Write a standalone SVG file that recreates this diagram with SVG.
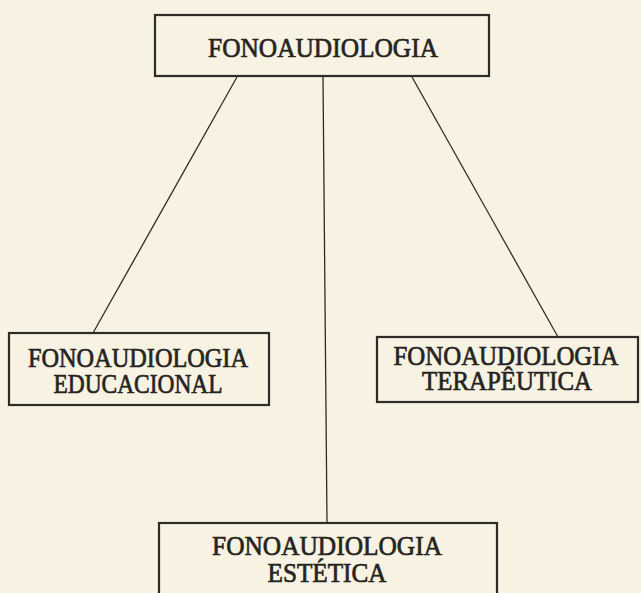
<svg xmlns="http://www.w3.org/2000/svg" width="641" height="593" viewBox="0 0 641 593">
  <style>
    .box { fill: none; stroke: #2e2c28; stroke-width: 2.2; }
    .lbl { font-family: "Liberation Serif", "Times New Roman", serif; font-size: 28px; fill: #26241f; text-anchor: middle; stroke: #26241f; stroke-width: 0.7; }
    .conn { stroke: #2e2c28; stroke-width: 1.3; fill: none; }
  </style>
  <rect x="0" y="0" width="641" height="593" fill="#f7f2e2"/>
  <g id="connectors">
    <line class="conn" x1="237" y1="77" x2="93" y2="333"/>
    <line class="conn" x1="323" y1="77" x2="327" y2="523"/>
    <line class="conn" x1="412" y1="77" x2="558" y2="337"/>
  </g>
  <g id="fonoaudiologia">
    <rect class="box" x="155" y="15" width="334" height="61"/>
    <text class="lbl" x="323" y="57" textLength="230" lengthAdjust="spacingAndGlyphs">FONOAUDIOLOGIA</text>
  </g>
  <g id="educacional">
    <rect class="box" x="9" y="333" width="260" height="72"/>
    <text class="lbl" x="138" y="367" textLength="220" lengthAdjust="spacingAndGlyphs">FONOAUDIOLOGIA</text>
    <text class="lbl" x="138" y="393" textLength="169" lengthAdjust="spacingAndGlyphs">EDUCACIONAL</text>
  </g>
  <g id="terapeutica">
    <rect class="box" x="377" y="337" width="261" height="65"/>
    <text class="lbl" x="506" y="365" textLength="225" lengthAdjust="spacingAndGlyphs">FONOAUDIOLOGIA</text>
    <text class="lbl" x="507" y="390" textLength="170" lengthAdjust="spacingAndGlyphs">TERAPÊUTICA</text>
  </g>
  <g id="estetica">
    <rect class="box" x="159" y="523" width="338" height="80"/>
    <text class="lbl" x="327" y="555" textLength="230" lengthAdjust="spacingAndGlyphs">FONOAUDIOLOGIA</text>
    <text class="lbl" x="327" y="582" textLength="119" lengthAdjust="spacingAndGlyphs">ESTÉTICA</text>
  </g>
</svg>
